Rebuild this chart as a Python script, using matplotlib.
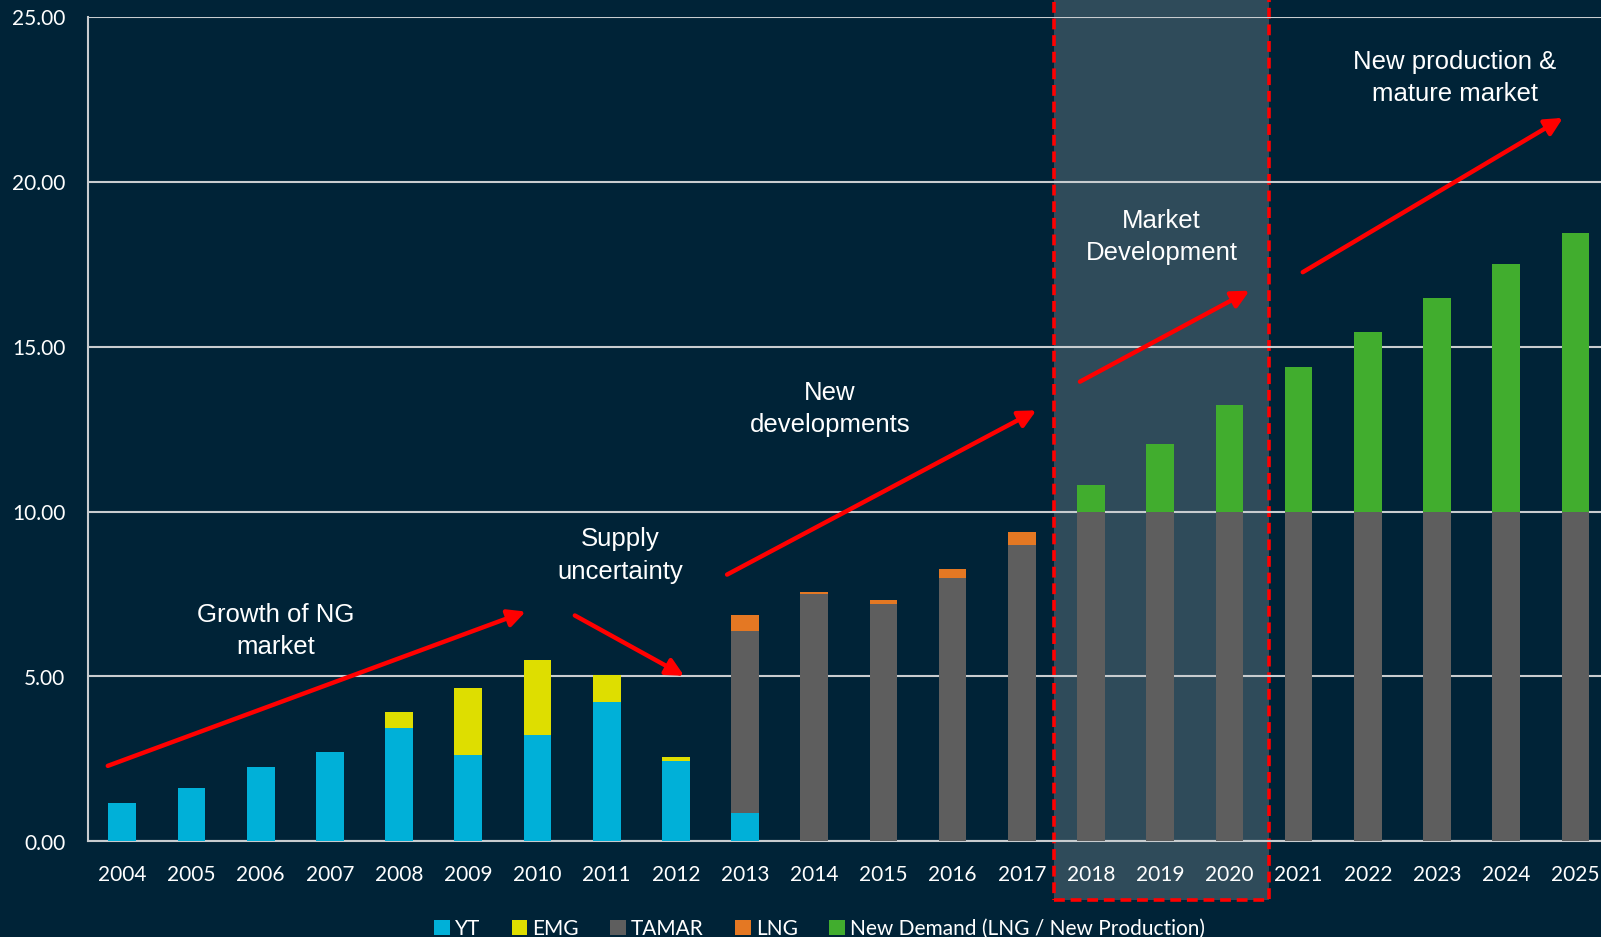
import matplotlib.pyplot as plt
import numpy as np
from matplotlib.patches import Rectangle

years = [str(y) for y in range(2004, 2026)]
yt = [1.15, 1.61, 2.26, 2.70, 3.44, 2.63, 3.22, 4.24, 2.45, 0.86,
      0, 0, 0, 0, 0, 0, 0, 0, 0, 0, 0, 0]
emg = [0, 0, 0, 0, 0.49, 2.02, 2.29, 0.81, 0.12, 0,
       0, 0, 0, 0, 0, 0, 0, 0, 0, 0, 0, 0]
tamar = [0, 0, 0, 0, 0, 0, 0, 0, 0, 5.51,
         7.50, 7.19, 7.99, 9.00, 10, 10, 10, 10, 10, 10, 10, 10]
lng = [0, 0, 0, 0, 0, 0, 0, 0, 0, 0.50,
       0.06, 0.14, 0.27, 0.37, 0, 0, 0, 0, 0, 0, 0, 0]
new_demand = [0, 0, 0, 0, 0, 0, 0, 0, 0, 0,
              0, 0, 0, 0, 0.81, 2.05, 3.23, 4.37, 5.46, 6.48, 7.50, 8.46]

bg = '#002337'
plt.rcParams['font.family'] = ['Lato', 'DejaVu Sans']

fig = plt.figure(figsize=(16.01, 9.375), dpi=100, facecolor=bg)
ax = fig.add_axes([0.0548, 0.102, 0.9508, 0.8794])
ax.set_facecolor(bg)

x = np.arange(len(years))
w = 0.4
series = [('YT', yt, '#00B0D8'), ('EMG', emg, '#DEDE00'), ('TAMAR', tamar, '#5E5E5E'),
          ('LNG', lng, '#E47823'), ('New Demand (LNG / New Production)', new_demand, '#41AD2E')]
bottom = np.zeros(len(years))
for name, vals, col in series:
    vals = np.array(vals, dtype=float)
    ax.bar(x, vals, w, bottom=bottom, color=col, label=name, zorder=3)
    bottom += vals

# shaded market-development window
ax.add_patch(Rectangle((13.46, -1.78), 3.11, 28.5, facecolor='#2F4B5A', edgecolor='#FF0000',
                       linestyle=(0, (3, 1.6)), linewidth=2.6, zorder=0.5, clip_on=False))

ax.set_xlim(-0.5, 21.5)
ax.set_ylim(0, 25)
ax.set_yticks(np.arange(0, 26, 5))
ax.set_yticklabels(['%.2f' % v for v in np.arange(0, 26, 5)])
ax.set_xticks(x)
ax.set_xticklabels(years)
ax.tick_params(axis='both', colors='white', labelsize=15, length=0)
ax.tick_params(axis='x', pad=17)
ax.tick_params(axis='y', pad=16)
ax.grid(axis='y', color='#C8CCCF', linewidth=1.5, zorder=1)
ax.set_axisbelow(False)
for s in ['top', 'right']:
    ax.spines[s].set_visible(False)
for s in ['left', 'bottom']:
    ax.spines[s].set_color('#C8CCCF')
    ax.spines[s].set_linewidth(1.5)
    ax.spines[s].set_zorder(1)

txt = dict(color='white', fontsize=18.5, ha='center', va='center', linespacing=1.45,
           family=['Liberation Sans', 'DejaVu Sans'], zorder=5)
ax.text(2.21, 6.40, 'Growth of NG\nmarket', **txt)
ax.text(7.20, 8.69, 'Supply\nuncertainty', **txt)
ax.text(10.23, 13.12, 'New\ndevelopments', **txt)
ax.text(15.02, 18.34, 'Market\nDevelopment', **txt)
ax.text(19.26, 23.16, 'New production &\nmature market', **txt)

arrows = [((-0.21, 2.29), (5.83, 6.97)),
          ((6.54, 6.85), (8.12, 5.02)),
          ((8.74, 8.09), (13.21, 13.07)),
          ((13.84, 13.94), (16.29, 16.70)),
          ((17.06, 17.26), (20.82, 21.94))]
for start, end in arrows:
    ax.annotate('', xy=end, xytext=start, zorder=6,
                arrowprops=dict(arrowstyle='-|>', color='#FF0000', lw=3.2, mutation_scale=26,
                                shrinkA=0, shrinkB=0))

leg = fig.legend(loc='center', bbox_to_anchor=(0.512, 0.009), ncol=5, frameon=False,
                 fontsize=15, handlelength=0.75, handleheight=0.75, handletextpad=0.25,
                 columnspacing=1.5)
for t in leg.get_texts():
    t.set_color('white')

fig.savefig('out.png', dpi=100, facecolor=bg)
